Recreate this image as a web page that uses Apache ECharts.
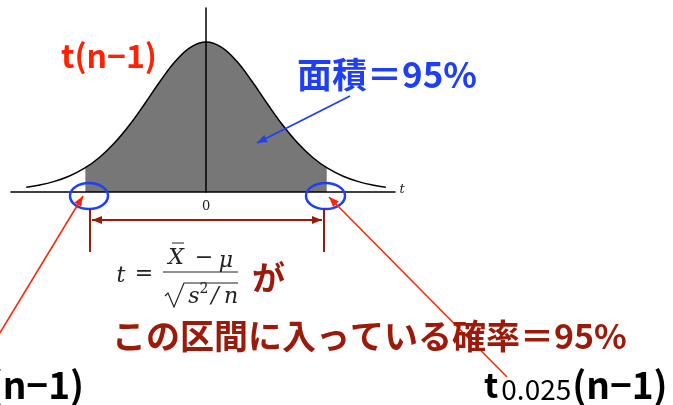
<!DOCTYPE html>
<html>
<head>
<meta charset="utf-8">
<script src="https://cdn.jsdelivr.net/npm/echarts@6/dist/echarts.min.js"></script>
<style>
  html, body { margin: 0; padding: 0; background: #fff; }
  #chart { width: 673px; height: 405px; }
</style>
</head>
<body>
<div id="chart"></div>
<script>
// t values (axis units) and relative density
var tValues = [-2.95, -2.75, -2.5, -2.25, -2, -1.75, -1.5, -1.25, -1, -0.75, -0.5, -0.25, 0,
  0.25, 0.5, 0.75, 1, 1.25, 1.5, 1.75, 2, 2.25, 2.5, 2.75, 2.95];
var density = [0.032, 0.045, 0.069, 0.105, 0.157, 0.23, 0.328, 0.45, 0.592, 0.74, 0.873, 0.966, 1,
  0.966, 0.873, 0.74, 0.592, 0.45, 0.328, 0.23, 0.157, 0.105, 0.069, 0.045, 0.032];
// shaded 95% region: the critical values and the curve height there
var critT = [-1.98, 1.98];
var critHeight = 0.162;
var tickLabels = [0];

var RED = '#ff2200', BLUE = '#1f3ff5', DARK = '#9b1a0a';
var JP = '"Noto Sans CJK JP", sans-serif';
var SERIF = '"DejaVu Serif", "Liberation Serif", serif';

var curveData = tValues.map(function (t, i) { return [t, density[i]]; });
var shadeData = [[critT[0], critHeight]];
tValues.forEach(function (t, i) {
  if (t > critT[0] && t < critT[1]) shadeData.push([t, density[i]]);
});
shadeData.push([critT[1], critHeight]);

// arrow = line + filled head at (x2,y2)
function arrowHead(x1, y1, x2, y2, color, len, wid) {
  var a = Math.atan2(y2 - y1, x2 - x1);
  var bx = x2 - len * Math.cos(a), by = y2 - len * Math.sin(a);
  var px = -Math.sin(a) * wid, py = Math.cos(a) * wid;
  return { type: 'polygon', shape: { points: [[x2, y2], [bx + px, by + py], [bx - px, by - py]] },
    style: { fill: color }, z: 20 };
}
function arrow(x1, y1, x2, y2, color, width, both) {
  var els = [{ type: 'line', shape: { x1: x1, y1: y1, x2: x2, y2: y2 },
    style: { stroke: color, lineWidth: width }, z: 20 }];
  els.push(arrowHead(x1, y1, x2, y2, color, 10, 4));
  if (both) els.push(arrowHead(x2, y2, x1, y1, color, 10, 4));
  return els;
}
function txt(x, y, text, font, color, align) {
  return { type: 'text', z: 30, style: { x: x, y: y, text: text, font: font, fill: color,
    textAlign: align || 'left', textVerticalAlign: 'middle' } };
}

var subRich = {
  t: { fontFamily: JP, fontWeight: 'bold', fontSize: 34, color: RED },
  s: { fontFamily: JP, fontWeight: 'normal', fontSize: 28, color: RED, padding: [8, 1, 0, 3] },
  p: { fontFamily: JP, fontWeight: 'bold', fontSize: 37, color: RED }
};

var graphics = [
  // ellipses around critical points
  { type: 'ellipse', shape: { cx: 89, cy: 196, rx: 19, ry: 13 }, style: { stroke: BLUE, lineWidth: 2.5, fill: 'none' }, z: 15 },
  { type: 'ellipse', shape: { cx: 325.5, cy: 196, rx: 19.5, ry: 13 }, style: { stroke: BLUE, lineWidth: 2.5, fill: 'none' }, z: 15 },
  // interval bracket
  { type: 'line', shape: { x1: 90, y1: 209, x2: 90, y2: 252 }, style: { stroke: DARK, lineWidth: 2 }, z: 20 },
  { type: 'line', shape: { x1: 324, y1: 209, x2: 324, y2: 252 }, style: { stroke: DARK, lineWidth: 2 }, z: 20 },
  // formula
  txt(121, 276, 't', 'italic 22px ' + SERIF, '#222', 'center'),
  txt(144, 274, '=', '22px ' + SERIF, '#222', 'center'),
  txt(176, 258, 'X', 'italic 22px ' + SERIF, '#222', 'center'),
  { type: 'line', shape: { x1: 172, y1: 243, x2: 184, y2: 243 }, style: { stroke: '#222', lineWidth: 1 }, z: 30 },
  txt(204, 258, '\u2212', '22px ' + SERIF, '#222', 'center'),
  txt(226, 261, '\u03bc', 'italic 22px ' + SERIF, '#222', 'center'),
  { type: 'line', shape: { x1: 163, y1: 272, x2: 238, y2: 272 }, style: { stroke: '#222', lineWidth: 1 }, z: 30 },
  { type: 'polyline', shape: { points: [[165, 296], [168, 293], [174, 307], [184, 283], [238, 283]] },
    style: { stroke: '#222', lineWidth: 1.2, fill: 'none' }, z: 30 },
  txt(194, 297, 's', 'italic 22px ' + SERIF, '#222', 'center'),
  txt(204, 289, '2', '14px ' + SERIF, '#222', 'center'),
  txt(215, 296, '/', 'italic 22px ' + SERIF, '#222', 'center'),
  txt(231, 297, 'n', 'italic 22px ' + SERIF, '#222', 'center'),
  // Japanese annotations
  txt(61, 56, 't(n\u22121)', 'bold 32px ' + JP, RED, 'left'),
  txt(297, 75, '面積＝95%', 'bold 35px ' + JP, BLUE, 'left'),
  txt(252, 277, 'が', 'bold 33px ' + JP, DARK, 'left'),
  txt(112, 336, 'この区間に入っている確率＝95%', 'bold 34px ' + JP, DARK, 'left'),
  { type: 'text', z: 30, style: { x: 484, y: 385, textVerticalAlign: 'middle',
    text: '{t|t}{s|0.025}{p|(n\u22121)}', rich: subRich } },
  { type: 'text', z: 30, style: { x: 84, y: 385, textAlign: 'right', textVerticalAlign: 'middle',
    text: '{p|\u2212}{t|t}{s|0.025}{p|(n\u22121)}', rich: subRich } },
  // axis name
  txt(402, 190, 't', 'italic 13px ' + SERIF, '#222', 'center')
];
graphics = graphics
  .concat(arrow(350, 96, 257, 143, BLUE, 1.8))
  .concat(arrow(-5, 341, 83, 196, RED, 1.5))
  .concat(arrow(507, 377, 329, 197, RED, 1.5))
  .concat(arrow(92, 220, 322, 220, DARK, 2, true));

var chart = echarts.init(document.getElementById('chart'));
chart.setOption({
  animation: false,
  backgroundColor: '#fff',
  grid: { left: 11, right: 278, top: 8, bottom: 213, containLabel: false },
  xAxis: {
    type: 'value', min: -3.2, max: 3.1, z: 5,
    axisLine: { lineStyle: { color: '#000', width: 1.5 } },
    axisTick: { show: false },
    splitLine: { show: false },
    axisLabel: { customValues: tickLabels, fontFamily: SERIF, fontSize: 13, color: '#222', margin: 8 }
  },
  yAxis: {
    type: 'value', min: 0, max: 1.2267, z: 5,
    axisLine: { show: true, onZero: true, lineStyle: { color: '#000', width: 1.5 } },
    axisTick: { show: false }, axisLabel: { show: false }, splitLine: { show: false }
  },
  series: [
    { type: 'line', data: shadeData, smooth: 0.4, symbol: 'none',
      lineStyle: { width: 0 }, areaStyle: { color: '#777', opacity: 1 }, z: 1 },
    { type: 'line', data: curveData, smooth: 0.4, symbol: 'none',
      lineStyle: { color: '#000', width: 1.5 }, z: 3 }
  ],
  graphic: graphics
});
</script>
</body>
</html>
